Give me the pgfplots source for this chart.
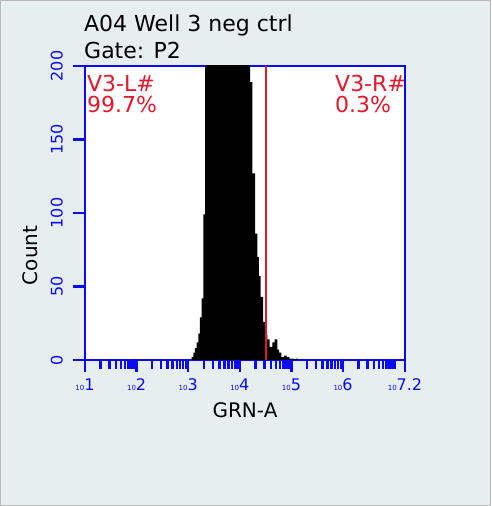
\documentclass[border=0pt]{standalone}
\usepackage{fontspec}
\setmainfont{DejaVu Sans}
\usepackage{pgfplots}
\pgfplotsset{compat=1.18}
\definecolor{bgpanel}{RGB}{231,238,240}
\definecolor{axblue}{RGB}{10,10,245}
\definecolor{gatered}{RGB}{225,25,45}

% minor ticks at 2..9 of every decade (axis runs in log10 units)
\def\mticks{7}
\foreach \d in {1,...,6}{\foreach \k in {2,...,9}{\pgfmathsetmacro\v{\d+log10(\k)}\xdef\mticks{\mticks,\v}}}
\newcommand\dec[1]{{\fontsize{7}{7}\selectfont 10}{\fontsize{16}{16}\selectfont #1}}

\begin{document}
\begin{tikzpicture}
\useasboundingbox (0,0) rectangle (491pt,506pt);
\fill[bgpanel] (0,0) rectangle (491pt,506pt);
\draw[gray!55, line width=1pt] (0.5pt,0.5pt) rectangle (490.5pt,505.5pt);

\node[anchor=base west, inner sep=0, font=\fontsize{22}{22}\selectfont] at (84pt,474pt) {A04 Well 3 neg ctrl};
\node[anchor=base west, inner sep=0, font=\fontsize{22}{22}\selectfont] at (84pt,447pt) {Gate: P2};

\begin{axis}[
  at={(85pt,146pt)}, anchor=south west,
  width=320pt, height=294pt, scale only axis,
  xmin=1, xmax=7.2, ymin=0, ymax=200,
  axis background/.style={fill=white},
  axis line style={axblue, line width=2.5pt},
  tick style={axblue, line width=2.4pt},
  tick align=outside,
  xtick pos=bottom, ytick pos=left,
  major tick length=12pt, minor tick length=9pt,
  xtick={1,2,3,4,5,6,7.2},
  xticklabels={\dec{1},\dec{2},\dec{3},\dec{4},\dec{5},\dec{6},\dec{7.2}},
  minor xtick/.expanded={\mticks},
  xticklabel style={text=axblue, anchor=base, inner sep=0pt},
  xticklabel shift=18.5pt,
  ytick={0,50,100,150,200},
  yticklabels={0,50,100,150,200},
  yticklabel style={rotate=90, anchor=south, inner sep=0pt, text=axblue, font=\fontsize{16}{16}\selectfont},
  yticklabel shift=10pt,
]
\addplot[fill=black, draw=none, const plot] coordinates {
  (3.067,2)(3.098,5)(3.131,8)(3.164,12)(3.195,18)(3.228,29)(3.261,42)(3.292,99)
  (3.325,235)(3.37,290)(3.42,340)(3.47,380)(3.52,410)(3.57,430)(3.62,440)(3.67,445)
  (3.72,440)(3.77,425)(3.82,400)(3.87,370)(3.92,335)(3.97,300)(4.02,265)(4.07,240)
  (4.12,222)(4.16,208)(4.197,189)(4.241,127)(4.294,86)(4.338,70)(4.371,57)(4.404,43)
  (4.449,26)(4.487,17)(4.532,14)(4.579,9)(4.629,12)(4.675,14)(4.726,7)(4.759,5)
  (4.803,2)(4.856,3)(4.908,2)(4.959,1)(5.000,0)(5.017,1)(5.05,0)(5.08,1)(5.12,0)
} \closedcycle;
\addplot[gatered, line width=2pt] coordinates {(4.513,0) (4.513,200)};
\end{axis}

% tick strokes redrawn on top so they stay visible
\foreach \t in \mticks {
  \pgfmathsetmacro\xx{85+(\t-1)*51.6129}
  \draw[axblue, line width=2.2pt] (\xx pt,146pt) -- ++(0,-9pt);
}
\foreach \t in {1,2,3,4,5,6,7.2} {
  \pgfmathsetmacro\xx{85+(\t-1)*51.6129}
  \draw[axblue, line width=2.2pt] (\xx pt,146pt) -- ++(0,-12pt);
}
\foreach \k in {0,...,4} {
  \pgfmathsetmacro\yy{146+\k*73.5}
  \draw[axblue, line width=2.2pt] (85pt,\yy pt) -- ++(-12pt,0);
}

\node[anchor=base west, inner sep=0, text=gatered, font=\fontsize{22}{22}\selectfont] at (87pt,414pt) {V3-L\#};
\node[anchor=base west, inner sep=0, text=gatered, font=\fontsize{22}{22}\selectfont] at (87pt,393pt) {99.7\%};
\node[anchor=base west, inner sep=0, text=gatered, font=\fontsize{22}{22}\selectfont] at (335pt,414pt) {V3-R\#};
\node[anchor=base west, inner sep=0, text=gatered, font=\fontsize{22}{22}\selectfont] at (335pt,393pt) {0.3\%};

\node[anchor=base, inner sep=0, font=\fontsize{20}{20}\selectfont] at (245pt,88pt) {GRN-A};
\node[rotate=90, inner sep=0, font=\fontsize{20}{20}\selectfont] at (30pt,250.5pt) {Count};
\end{tikzpicture}
\end{document}
